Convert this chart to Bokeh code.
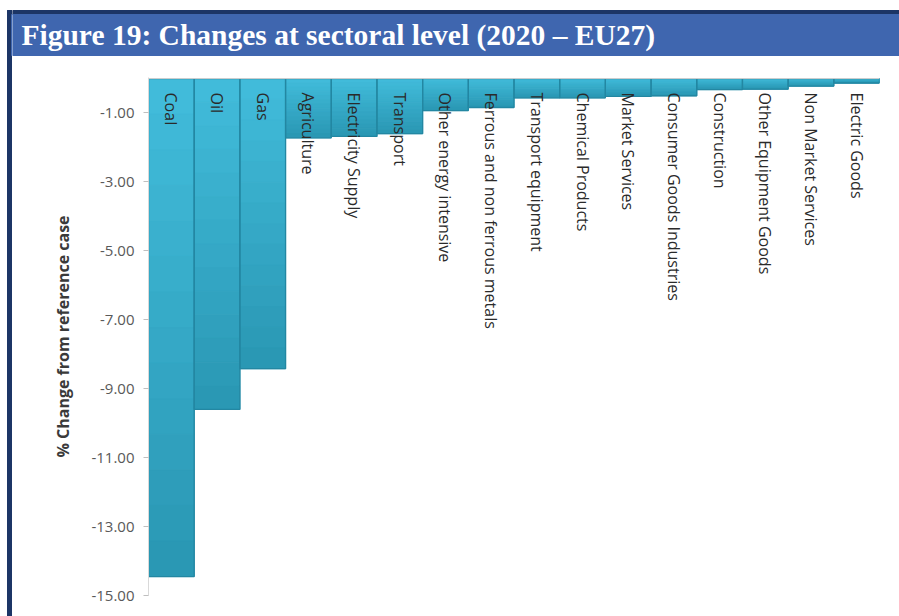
import numpy as np
from bokeh.plotting import figure
from bokeh.layouts import row, column
from bokeh.models import Range1d, FactorRange, FixedTicker, NumeralTickFormatter, Span
from bokeh.core.properties import value
from bokeh.embed import file_html
from bokeh.resources import INLINE

# Sectoral output change in 2020 (EU27), % vs. reference case
sectors = [
    "Coal", "Oil", "Gas", "Agriculture", "Electricity Supply", "Transport",
    "Other energy intensive", "Ferrous and non ferrous metals",
    "Transport equipment", "Chemical Products", "Market Services",
    "Consumer Goods Industries", "Construction", "Other Equipment Goods",
    "Non Market Services", "Electric Goods",
]
change_pct = [
    -14.45, -9.60, -8.42, -1.72, -1.68, -1.60,
    -0.93, -0.84, -0.56, -0.56, -0.52,
    -0.50, -0.32, -0.31, -0.22, -0.13,
]
y_ticks = [-15, -13, -11, -9, -7, -5, -3, -1]
title_text = "Figure 19:  Changes at sectoral level (2020 – EU27)"
y_title = "% Change from reference case"

NAVY = "#1C3566"
BLUE = "#3F66AF"
FONT = "Open Sans"


def bare(width, height, xr, yr):
    f = figure(width=width, height=height, x_range=xr, y_range=yr,
               x_axis_type=None, y_axis_type=None, toolbar_location=None,
               output_backend="svg", min_border=0)
    f.grid.visible = False
    f.outline_line_color = None
    f.background_fill_color = "white"
    f.border_fill_color = "white"
    f.frame_align = False
    return f


# left frame strip (pixel coordinates, y downwards)
strip = bare(12, 616, Range1d(0, 12), Range1d(616, 0))
strip.quad(left=7, right=12, top=10, bottom=14, color=NAVY)
strip.quad(left=7, right=11, top=10, bottom=616, color=NAVY)
strip.quad(left=11, right=12, top=14, bottom=55, color=BLUE)

# header band with the figure title
hdr = bare(887, 56, Range1d(0, 887), Range1d(56, 0))
hdr.quad(left=0, right=887, top=10, bottom=14, color=NAVY)
hdr.quad(left=0, right=887, top=14, bottom=55, color=BLUE)
hdr.text(x=[9], y=[34], text=[title_text], text_color="white",
         text_font=value("Liberation Serif"), text_font_style="bold",
         text_font_size="29.5px", text_baseline="middle", text_align="left")

# bar chart
p = figure(width=887, height=560,
           x_range=FactorRange(*sectors, range_padding=0),
           y_range=Range1d(-15, 0.03),
           x_axis_location=None, toolbar_location=None,
           output_backend="svg",
           min_border_left=136, min_border_right=20,
           min_border_top=21, min_border_bottom=21)
p.frame_align = False
p.grid.visible = False
p.outline_line_color = None
p.background_fill_color = "white"
p.border_fill_color = "white"

ya = p.yaxis[0]
ya.ticker = FixedTicker(ticks=y_ticks)
ya.formatter = NumeralTickFormatter(format="0.00")
ya.axis_line_color = "#D9D9D9"
ya.major_tick_line_color = "#BFBFBF"
ya.major_tick_in = 0
ya.major_tick_out = 5
ya.minor_tick_line_color = None
ya.major_label_text_font = FONT
ya.major_label_text_font_size = "15px"
ya.major_label_text_color = "#595959"
ya.major_label_standoff = 9
ya.axis_label = y_title
ya.axis_label_text_font = FONT
ya.axis_label_text_font_style = "bold"
ya.axis_label_text_font_size = "16px"
ya.axis_label_text_color = "#3A3A3A"
ya.axis_label_standoff = 14

# zero line of the category axis
p.add_layout(Span(location=0, dimension="width", line_color="#D0D0D0", line_width=1))

# each bar shaded from light (top) to darker (bottom) in slices
n_slices = 14
top_rgb = np.array([0x42, 0xBD, 0xDC])
bot_rgb = np.array([0x2A, 0x97, 0xB3])
xs, tops, bots, cols = [], [], [], []
for name, v in zip(sectors, change_pct):
    for k in range(n_slices):
        c = (top_rgb + (bot_rgb - top_rgb) * (k + 0.5) / n_slices).astype(int)
        xs.append(name)
        tops.append(v * k / n_slices)
        bots.append(v * (k + 1) / n_slices)
        cols.append("#%02x%02x%02x" % tuple(c))
p.vbar(x=xs, top=tops, bottom=bots, width=1.0, fill_color=cols,
       line_color=cols, line_width=1)

# bar outlines
p.vbar(x=sectors, top=0, bottom=change_pct, width=1.0, fill_color=None,
       line_color="#2387A2", line_width=1.3)

# category labels, reading downwards just below the zero line
p.text(x=sectors, y=[0] * len(sectors), text=sectors, angle=-np.pi / 2,
       text_align="left", text_baseline="middle", y_offset=14,
       text_font=value(FONT), text_font_size="16px", text_color="#2A2A2A")

layout = row(strip, column(hdr, p))

open("out.html", "w").write(file_html(layout, INLINE))
